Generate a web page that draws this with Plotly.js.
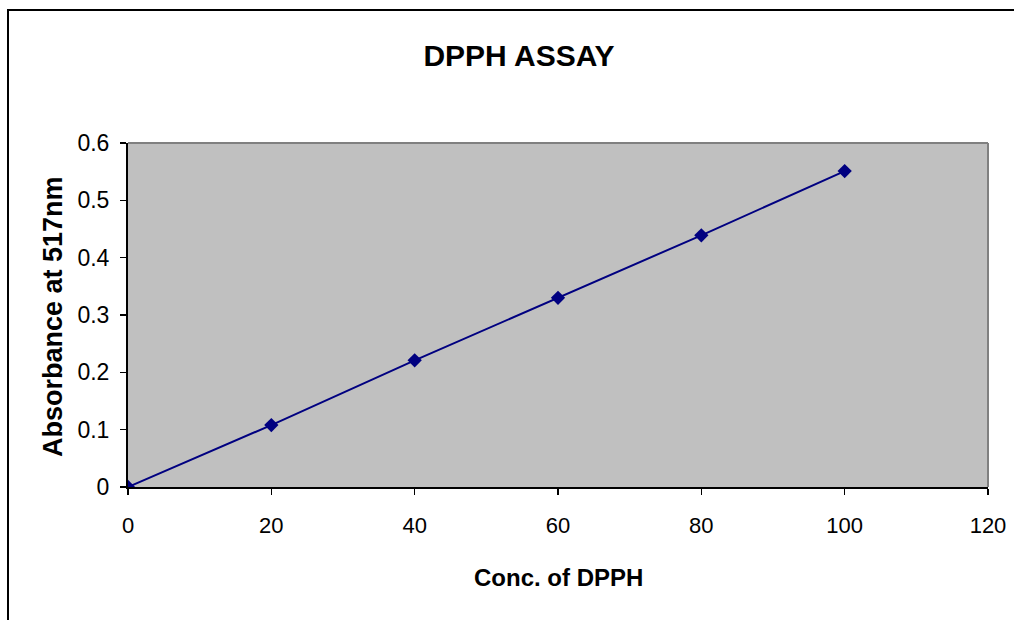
<!DOCTYPE html>
<html><head><meta charset="utf-8">
<script src="https://cdn.plot.ly/plotly-3.0.1.min.js"></script>
<style>
html,body{margin:0;padding:0;background:#fff;}
#frame{position:absolute;left:7px;top:9px;width:1100px;height:700px;border-left:2px solid #000;border-top:2px solid #000;}
#chart{position:absolute;left:0;top:0;width:1014px;height:620px;}
</style>
</head><body>
<div id="frame"></div>
<div id="chart"></div>
<script>
const concentrations = [0, 20, 40, 60, 80, 100];
const absorbance = [0, 0.108, 0.221, 0.330, 0.439, 0.551];
const titleText = "DPPH ASSAY";
const xTitle = "Conc. of DPPH";
const yTitle = "Absorbance at 517nm";

const trace = {
  x: concentrations, y: absorbance, type: 'scatter', mode: 'lines+markers',
  line: {color: '#000080', width: 2},
  marker: {symbol: 'diamond', size: 11, color: '#000080'},
  showlegend: false, hoverinfo: 'x+y'
};
const font = {family: 'Liberation Sans, Arial, sans-serif', color: '#000'};
const layout = {
  width: 1014, height: 620,
  margin: {l: 128, r: 26, t: 143, b: 133},
  paper_bgcolor: 'rgba(0,0,0,0)', plot_bgcolor: '#C0C0C0',
  font: Object.assign({size: 22}, font),
  title: {text: '<b>' + titleText + '</b>', x: 519/1014, xanchor: 'center', y: 1 - 55/620, yanchor: 'middle',
          font: Object.assign({size: 30}, font)},
  xaxis: {range: [0, 120], dtick: 20, tick0: 0, showgrid: false, zeroline: false,
          showline: true, linecolor: '#000', linewidth: 2, ticks: 'outside', ticklen: 6, tickcolor: '#000', tickwidth: 1.5,
          ticklabelstandoff: 12, tickfont: Object.assign({size: 22}, font)},
  yaxis: {range: [0, 0.6], dtick: 0.1, tick0: 0, showgrid: false, zeroline: false,
          showline: true, linecolor: '#000', linewidth: 2, ticks: 'outside', ticklen: 6, tickcolor: '#000', tickwidth: 1.5,
          ticklabelstandoff: 6, tickfont: Object.assign({size: 23}, font)},
  annotations: [
    {text: '<b>' + xTitle + '</b>', xref: 'paper', yref: 'paper', x: 0.501, y: -0.2645, xanchor: 'center', yanchor: 'middle',
     showarrow: false, font: Object.assign({size: 24}, font)},
    {text: '<b>' + yTitle + '</b>', xref: 'paper', yref: 'paper', x: -0.0872, y: 0.494, xanchor: 'center', yanchor: 'middle',
     textangle: -90, showarrow: false, font: Object.assign({size: 27}, font)}
  ],
  shapes: [
    {type: 'line', xref: 'paper', yref: 'paper', x0: 0, x1: 1, y0: 1, y1: 1, line: {color: '#808080', width: 2}},
    {type: 'line', xref: 'paper', yref: 'paper', x0: 1, x1: 1, y0: 0, y1: 1, line: {color: '#808080', width: 2}}
  ]
};
Plotly.newPlot('chart', [trace], layout, {displayModeBar: false, staticPlot: true});
</script>
</body></html>
